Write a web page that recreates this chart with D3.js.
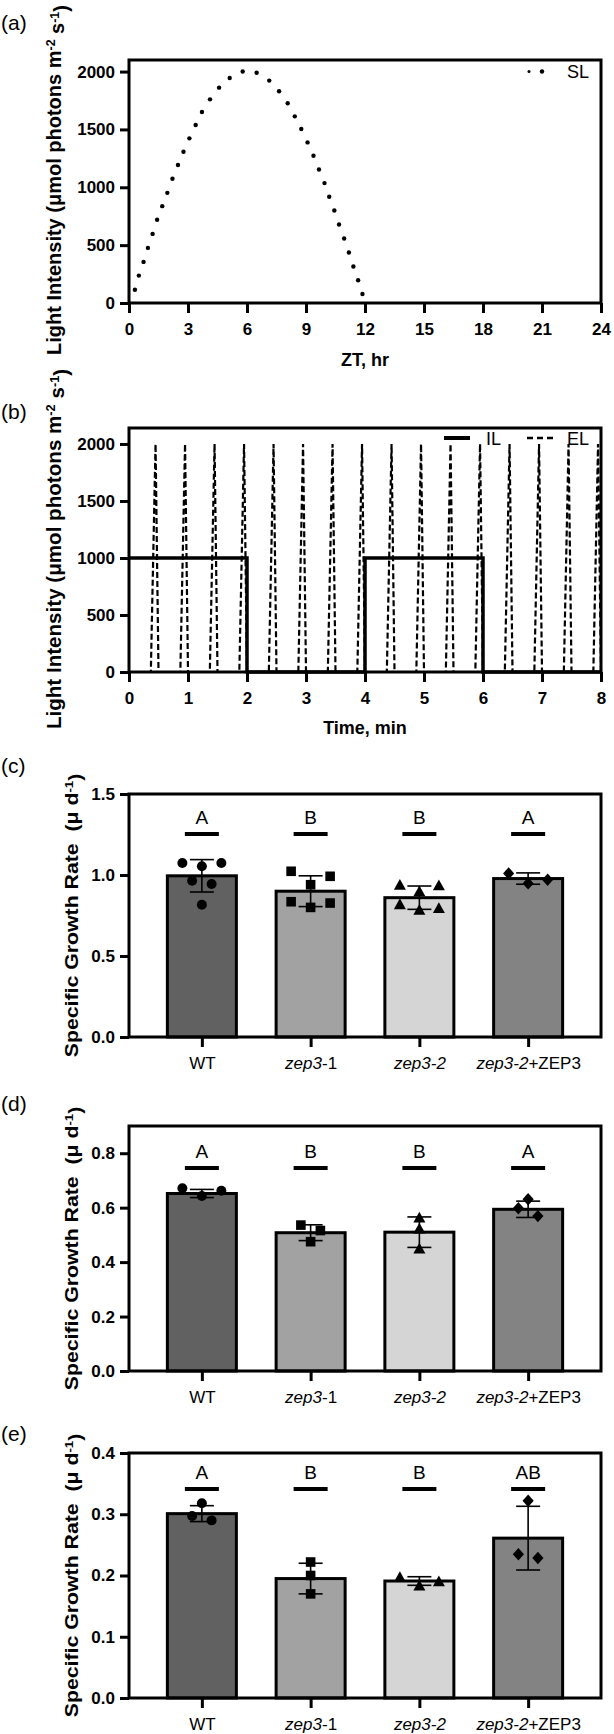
<!DOCTYPE html>
<html><head><meta charset="utf-8">
<script src="https://cdn.jsdelivr.net/npm/d3@7"></script>
<style>
body{margin:0;background:#fff}
svg{display:block;background:#fff}
text{font-family:"Liberation Sans",Arial,Helvetica,sans-serif;fill:#000}
</style></head>
<body><svg id="chart" width="614" height="1734"></svg>
<script>
// ---------- data ----------
// (a) sinusoidal light (SL), dots
const slHour  = [0.30,0.50,0.74,0.96,1.20,1.43,1.69,1.95,2.21,2.49,2.77,3.07,3.39,3.71,4.12,4.58,5.12,5.78,6.49,7.13,7.63,8.07,8.43,8.76,9.08,9.38,9.66,9.94,10.18,10.44,10.68,10.94,11.18,11.41,11.65,11.87];
const slValue = [115,237,355,476,597,719,837,952,1074,1192,1307,1423,1538,1651,1760,1861,1945,2000,1990,1922,1830,1726,1613,1504,1388,1273,1154,1036,918,800,678,557,436,315,196,78];
const zTicks = [0,3,6,9,12,15,18,21,24];
const lightTicks = [0,500,1000,1500,2000];

// (b) intermittent light (IL) and excess light (EL)
const ilTime  = [0,2,2,4,4,6,6,8];
const ilValue = [1000,1000,0,0,1000,1000,0,0];
const elTime  = [0,0.37,0.45,0.50,0.87,0.95,1.00,1.37,1.45,1.50,1.87,1.95,2.00,2.37,2.45,2.50,2.87,2.95,3.00,3.37,3.45,3.50,3.87,3.95,4.00,4.37,4.45,4.50,4.87,4.95,5.00,5.37,5.45,5.50,5.87,5.95,6.00,6.37,6.45,6.50,6.87,6.95,7.00,7.37,7.45,7.50,7.87,7.95,8.00];
const elValue = [0,0,2000,0,0,2000,0,0,2000,0,0,2000,0,0,2000,0,0,2000,0,0,2000,0,0,2000,0,0,2000,0,0,2000,0,0,2000,0,0,2000,0,0,2000,0,0,2000,0,0,2000,0,0,2000,0];
const minuteTicks = [0,1,2,3,4,5,6,7,8];

// (c)-(e) specific growth rate
const genotypes = ["WT","zep3-1","zep3-2","zep3-2+ZEP3"];

const meanC = [0.995,0.900,0.860,0.978];
const sdC   = [0.100,0.095,0.072,0.035];
const ptsC  = [[1.074,1.054,1.074,0.965,0.944,0.816],[1.023,0.992,0.940,0.835,0.827,0.800],[0.934,0.930,0.893,0.814,0.790,0.779],[1.010,0.971,0.948]];
const lettersC = ["A","B","B","A"];
const ticksC = [0,0.5,1.0,1.5];

const meanD = [0.652,0.508,0.510,0.594];
const sdD   = [0.015,0.029,0.056,0.030];
const ptsD  = [[0.643,0.671,0.662],[0.536,0.516,0.475],[0.560,0.520,0.446],[0.631,0.598,0.569]];
const lettersD = ["A","B","B","A"];
const ticksD = [0,0.2,0.4,0.6,0.8];

const meanE = [0.301,0.195,0.191,0.261];
const sdE   = [0.013,0.025,0.007,0.052];
const ptsE  = [[0.318,0.297,0.290],[0.222,0.200,0.170],[0.196,0.189,0.182],[0.322,0.2346,0.2286]];
const lettersE = ["A","B","B","AB"];
const ticksE = [0,0.1,0.2,0.3,0.4];

// ---------- layout / style ----------
const FONT = '"Liberation Sans", Arial, Helvetica, sans-serif';
const L = 129, R = 601;
const svg = d3.select("#chart");
const barFill = ["#616161","#a2a2a2","#d5d5d5","#838383"];

function panelLabel(t, y){
  svg.append("text").attr("x",1).attr("y",y).attr("font-size",21).text(t);
}
function frame(top, bottom){
  svg.append("rect").attr("x",L).attr("y",top).attr("width",R-L).attr("height",bottom-top)
    .attr("fill","none").attr("stroke","#000").attr("stroke-width",3);
}
function styleAxis(g){
  g.select(".domain").remove();
  g.selectAll(".tick line").attr("stroke","#000").attr("stroke-width",3);
  g.selectAll(".tick text").attr("fill","#000").attr("font-size",17).attr("font-weight","bold").attr("font-family",FONT);
}
function yTitle(x, cy, size, stretch, parts){
  const t = svg.append("text").attr("transform",`translate(${x},${cy}) rotate(-90) scale(${stretch},1)`)
    .attr("text-anchor","middle").attr("font-size",size).attr("font-weight","bold")
    .style("white-space","pre");
  parts.forEach(p=>{
    const s = t.append("tspan").text(p.t);
    if(p.sup){ s.attr("dy","-0.45em").attr("font-size",size*0.62); }
    if(p.down){ s.attr("dy","0.45em"); }
  });
}
function xTitle(y, txt){
  svg.append("text").attr("x",(L+R)/2).attr("y",y).attr("text-anchor","middle")
    .attr("font-size",18).attr("font-weight","bold").text(txt);
}
const lightTitle = [{t:"Light Intensity (μmol photons m"},{t:"-2",sup:1},{t:" s",down:1},{t:"-1",sup:1},{t:")",down:1}];
const growthTitle = [{t:"Specific Growth Rate  (μ d"},{t:"-1",sup:1},{t:")",down:1}];

// ---------- panel (a) ----------
{
  const top=60, bottom=303;
  const x = d3.scaleLinear().domain([0,24]).range([L,R]);
  const y = d3.scaleLinear().domain([0,2100]).range([bottom,top]);
  svg.append("g").selectAll("circle").data(slHour).join("circle")
    .attr("cx",(d)=>x(d)).attr("cy",(d,i)=>y(slValue[i])).attr("r",2.2).attr("fill","#000");
  frame(top,bottom);
  styleAxis(svg.append("g").attr("transform",`translate(${L},0)`)
    .call(d3.axisLeft(y).tickValues(lightTicks).tickFormat(d3.format("d")).tickSize(9).tickPadding(5)));
  styleAxis(svg.append("g").attr("transform",`translate(0,${bottom})`)
    .call(d3.axisBottom(x).tickValues(zTicks).tickFormat(d3.format("d")).tickSize(10).tickPadding(10)));
  // legend
  svg.append("circle").attr("cx",529).attr("cy",y(2000)).attr("r",1.5).attr("fill","#000");
  svg.append("circle").attr("cx",542).attr("cy",y(2000)).attr("r",2.2).attr("fill","#000");
  svg.append("text").attr("x",567).attr("y",y(2000)+6.5).attr("font-size",18).text("SL");
  xTitle(366,"ZT, hr");
  yTitle(61,180,20,1.0,lightTitle);
  panelLabel("(a)",30);
}

// ---------- panel (b) ----------
{
  const top=428, bottom=672;
  const x = d3.scaleLinear().domain([0,8]).range([L,R]);
  const y = d3.scaleLinear().domain([0,2140]).range([bottom,top]);
  const line = d3.line().x(d=>x(d[0])).y(d=>y(d[1]));
  svg.append("path").attr("d",line(elTime.map((t,i)=>[t,elValue[i]])))
    .attr("fill","none").attr("stroke","#000").attr("stroke-width",2.2).attr("stroke-dasharray","6,3");
  svg.append("path").attr("d",line(ilTime.map((t,i)=>[t,ilValue[i]])))
    .attr("fill","none").attr("stroke","#000").attr("stroke-width",3.5);
  frame(top,bottom);
  styleAxis(svg.append("g").attr("transform",`translate(${L},0)`)
    .call(d3.axisLeft(y).tickValues(lightTicks).tickFormat(d3.format("d")).tickSize(9).tickPadding(5)));
  styleAxis(svg.append("g").attr("transform",`translate(0,${bottom})`)
    .call(d3.axisBottom(x).tickValues(minuteTicks).tickFormat(d3.format("d")).tickSize(10).tickPadding(10)));
  // legend
  const ly = 438;
  svg.append("line").attr("x1",444).attr("x2",470).attr("y1",ly).attr("y2",ly).attr("stroke","#000").attr("stroke-width",4);
  svg.append("text").attr("x",486).attr("y",ly+6.5).attr("font-size",18).text("IL");
  svg.append("line").attr("x1",527).attr("x2",553).attr("y1",ly).attr("y2",ly).attr("stroke","#000").attr("stroke-width",2.5).attr("stroke-dasharray","6,4");
  svg.append("text").attr("x",567).attr("y",ly+6.5).attr("font-size",18).text("EL");
  xTitle(734,"Time, min");
  yTitle(61,549,20,1.03,lightTitle);
  panelLabel("(b)",419);
}

// ---------- bar panels ----------
function shapePath(k){
  if(k===0) return d3.symbol(d3.symbolCircle,78)();
  if(k===1) return "M-4.8,-4.8H4.8V4.8H-4.8Z";
  if(k===2) return "M0,-6.8L6,4L-6,4Z";
  return "M0,-6.2L5.6,0L0,6.2L-5.6,0Z";
}
function rowOffsets(vals, y){
  const idx = vals.map((v,i)=>i).sort((a,b)=>vals[b]-vals[a]);
  const rows=[]; let cur=[];
  idx.forEach(i=>{
    if(cur.length && Math.abs(y(vals[i])-y(vals[cur[cur.length-1]]))>8.5){ rows.push(cur); cur=[]; }
    cur.push(i);
  });
  rows.push(cur);
  const step=19.5, off=new Array(vals.length);
  rows.forEach(r=>{
    const n=r.length;
    const pat = n===1?[0]: n===2?[-0.5,0.5]: n===3?[-1,1,0]: r.map((_,k)=>k-(n-1)/2);
    r.forEach((i,k)=>off[i]=pat[k]*step);
  });
  return off;
}
function labelParts(name){
  const m = name.match(/^(zep3(?:-2)?)(.*)$/);
  if(!m) return [{t:name,i:false}];
  return [{t:m[1],i:true},{t:m[2],i:false}].filter(p=>p.t.length);
}

function barPanel(o){
  const {top,bottom,max,ticks,means,sds,pts,letters,lineOff,label,labelY} = o;
  const x = d3.scalePoint().domain(genotypes).range([L,R]).padding(0.67);
  const y = d3.scaleLinear().domain([0,max]).range([bottom,top]);
  const bw = 69;
  const g = svg.append("g");
  g.selectAll("rect.bar").data(genotypes).join("rect").attr("class","bar")
    .attr("x",d=>x(d)-bw/2).attr("width",bw)
    .attr("y",(d,i)=>y(means[i])).attr("height",(d,i)=>y(0)-y(means[i]))
    .attr("fill",(d,i)=>barFill[i]).attr("stroke","#000").attr("stroke-width",3);
  // error bars
  genotypes.forEach((gname,i)=>{
    const cx=x(gname), y1=y(means[i]+sds[i]), y2=y(means[i]-sds[i]);
    const eb = g.append("g").attr("stroke","#000").attr("stroke-width",1.6);
    eb.append("line").attr("x1",cx).attr("x2",cx).attr("y1",y1).attr("y2",y2);
    eb.append("line").attr("x1",cx-12).attr("x2",cx+12).attr("y1",y1).attr("y2",y1);
    eb.append("line").attr("x1",cx-12).attr("x2",cx+12).attr("y1",y2).attr("y2",y2);
  });
  // points
  genotypes.forEach((gname,i)=>{
    const off = rowOffsets(pts[i], y);
    g.append("g").selectAll("path").data(pts[i]).join("path")
      .attr("d",shapePath(i)).attr("fill","#000")
      .attr("transform",(v,j)=>`translate(${x(gname)+off[j]},${y(v)})`);
  });
  // significance letters
  genotypes.forEach((gname,i)=>{
    const ly = top+lineOff;
    g.append("rect").attr("x",x(gname)-17).attr("width",34).attr("y",ly-2).attr("height",4).attr("fill","#000");
    g.append("text").attr("x",x(gname)).attr("y",ly-10.5).attr("text-anchor","middle").attr("font-size",19).text(letters[i]);
  });
  frame(top,bottom);
  styleAxis(svg.append("g").attr("transform",`translate(${L},0)`)
    .call(d3.axisLeft(y).tickValues(ticks).tickFormat(d3.format(".1f")).tickSize(9).tickPadding(5)));
  const xa = svg.append("g").attr("transform",`translate(0,${bottom})`)
    .call(d3.axisBottom(x).tickSize(10).tickPadding(10));
  styleAxis(xa);
  xa.selectAll(".tick text").attr("font-weight","normal").attr("font-size",17).text(null)
    .each(function(d){
      const t=d3.select(this);
      labelParts(d).forEach(p=>t.append("tspan").attr("font-style",p.i?"italic":"normal").text(p.t));
    });
  yTitle(78,(top+bottom)/2,18.5,1.15,growthTitle);
  panelLabel(label,labelY);
}

barPanel({top:794,bottom:1037,max:1.5,ticks:ticksC,means:meanC,sds:sdC,pts:ptsC,letters:lettersC,lineOff:40,label:"(c)",labelY:773});
barPanel({top:1126,bottom:1371,max:0.9,ticks:ticksD,means:meanD,sds:sdD,pts:ptsD,letters:lettersD,lineOff:42,label:"(d)",labelY:1111});
barPanel({top:1453,bottom:1698,max:0.4,ticks:ticksE,means:meanE,sds:sdE,pts:ptsE,letters:lettersE,lineOff:36,label:"(e)",labelY:1441});
</script></body></html>
